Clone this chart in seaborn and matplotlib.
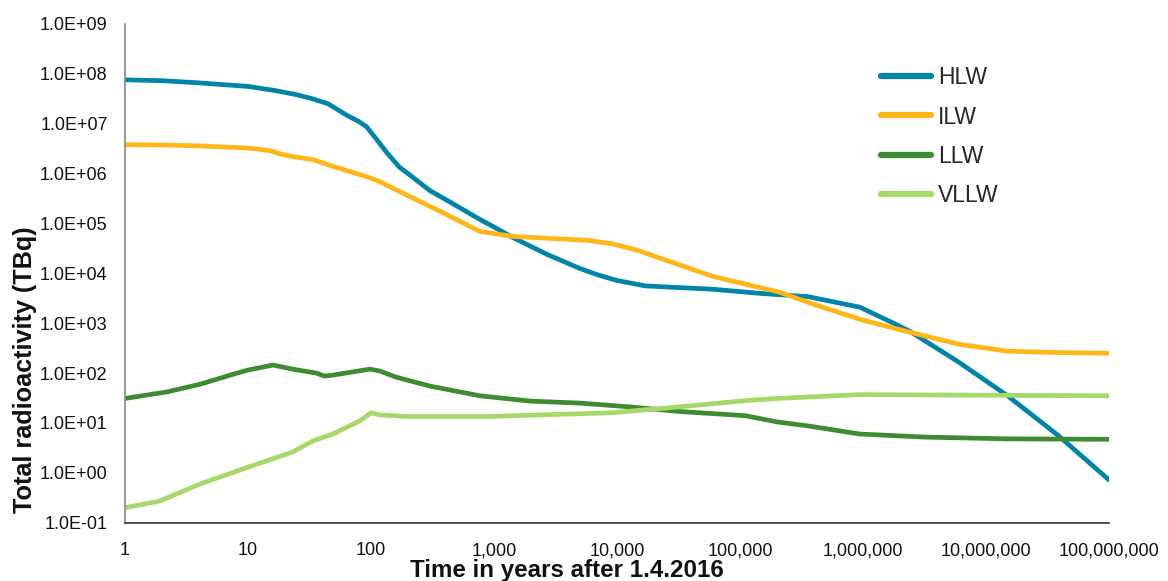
import matplotlib
matplotlib.use("Agg")
import matplotlib.pyplot as plt
import matplotlib.ticker as mticker
import seaborn as sns
import pandas as pd

# ---- data ----
hlw_years = [1, 2, 4, 10, 16, 24, 33, 45, 63, 80, 92, 110, 135, 170, 200, 300, 450, 770,
             1000, 1430, 2700, 5000, 7000, 10000, 17000, 60000, 140000, 360000, 940000,
             1700000, 2400000, 6000000, 15000000, 39000000, 100000000]
hlw = [7.6e7, 7.3e7, 6.6e7, 5.6e7, 4.7e7, 3.9e7, 3.2e7, 2.5e7, 1.5e7, 1.1e7, 8.7e6, 5.0e6,
       2.6e6, 1.35e6, 1.0e6, 4.6e5, 2.6e5, 1.2e5, 8.5e4, 5.2e4, 2.4e4, 1.25e4, 9.3e3, 7.2e3,
       5.6e3, 4.8e3, 4.0e3, 3.4e3, 2.1e3, 1.05e3, 690, 166, 35, 5.5, 0.72]

ilw_years = [1, 2, 4, 10, 15, 18, 23, 34, 49, 92, 118, 170, 205, 415, 770, 1430, 3000, 5700,
             9200, 14000, 24000, 60000, 140000, 210000, 360000, 940000, 2400000, 6000000,
             15000000, 40000000, 100000000]
ilw = [3.8e6, 3.75e6, 3.6e6, 3.25e6, 2.9e6, 2.5e6, 2.2e6, 1.9e6, 1.4e6, 8.7e5, 6.9e5, 4.4e5,
       3.5e5, 1.5e5, 6.9e4, 5.5e4, 5.0e4, 4.6e4, 3.9e4, 3.0e4, 1.9e4, 8.7e3, 5.3e3, 4.2e3,
       2.6e3, 1.2e3, 660, 380, 275, 258, 250]

llw_years = [1, 2.2, 4.1, 7.6, 10, 16, 23, 36, 42, 49, 98, 118, 160, 300, 770, 1950, 5000,
             12800, 32000, 110000, 200000, 360000, 940000, 3200000, 15000000, 100000000]
llw = [31, 42, 60, 95, 115, 145, 120, 100, 87, 91, 120, 110, 83, 55, 35, 27.5, 25,
       21, 17, 14, 10.5, 8.7, 6.0, 5.2, 4.8, 4.7]

vllw_years = [1, 1.9, 4.1, 10, 23, 34, 49, 81, 100, 118, 195, 920, 9000, 32000, 110000,
              200000, 940000, 100000000]
vllw = [0.2, 0.27, 0.6, 1.3, 2.6, 4.4, 6.0, 11, 16, 14.5, 13.5, 13.5, 16, 21, 28,
        31, 37, 35]

x_ticks = [1, 10, 100, 1000, 10000, 100000, 1000000, 10000000, 100000000]
y_ticks = [0.1, 1, 10, 100, 1e3, 1e4, 1e5, 1e6, 1e7, 1e8, 1e9]

series_names = ["HLW", "ILW", "LLW", "VLLW"]
colors = {"HLW": "#0084A9", "ILW": "#FFB718", "LLW": "#3E8C31", "VLLW": "#A7D86A"}

long = pd.concat([
    pd.DataFrame({"years": hlw_years, "activity": hlw, "waste": "HLW"}),
    pd.DataFrame({"years": ilw_years, "activity": ilw, "waste": "ILW"}),
    pd.DataFrame({"years": llw_years, "activity": llw, "waste": "LLW"}),
    pd.DataFrame({"years": vllw_years, "activity": vllw, "waste": "VLLW"}),
], ignore_index=True)

# ---- style ----
sns.set_style("white")
plt.rcParams["font.family"] = ["Liberation Sans", "DejaVu Sans"]

fig = plt.figure(figsize=(11.68, 5.81), dpi=100)
ax = fig.add_axes([125 / 1168, 1 - 522.7 / 581, (1109 - 125) / 1168, (522.7 - 24) / 581])

sns.lineplot(data=long, x="years", y="activity", hue="waste", hue_order=series_names,
             palette=colors, linewidth=3.4, ax=ax, legend=True, sort=True,
             estimator=None)
for ln in ax.get_lines():
    ln.set_solid_capstyle("round")
    ln.set_solid_joinstyle("round")

ax.set_xscale("log")
ax.set_yscale("log")
ax.set_xlim(1, 1e8)
ax.set_ylim(0.1, 1e9)

ax.xaxis.set_major_locator(mticker.FixedLocator(x_ticks))
ax.yaxis.set_major_locator(mticker.FixedLocator(y_ticks))
ax.xaxis.set_minor_locator(mticker.NullLocator())
ax.yaxis.set_minor_locator(mticker.NullLocator())
ax.xaxis.set_major_formatter(mticker.FuncFormatter(lambda v, p: f"{int(round(v)):,}"))
ax.yaxis.set_major_formatter(mticker.FuncFormatter(lambda v, p: f"{v:.1E}"))

ax.tick_params(axis="x", direction="in", length=5, width=1, color="#888888",
               labelsize=13, labelcolor="#111111", pad=14)
ax.tick_params(axis="y", direction="inout", length=11, width=1, color="#888888",
               labelsize=13, labelcolor="#111111", pad=7)

for s in ["top", "right"]:
    ax.spines[s].set_visible(False)
ax.spines["left"].set_color("#888888")
ax.spines["left"].set_linewidth(1.2)
ax.spines["bottom"].set_color("#333333")
ax.spines["bottom"].set_linewidth(1.2)

ax.set_xlabel("Time in years after 1.4.2016", fontsize=17.4, fontweight="bold", color="#111111")
ax.set_ylabel("Total radioactivity (TBq)", fontsize=18.2, fontweight="bold", color="#111111")
ax.xaxis.label.set_va("center")
ax.yaxis.label.set_va("center")
ax.xaxis.set_label_coords((567 - 125) / (1109 - 125), -(570 - 522.7) / (522.7 - 24))
ax.yaxis.set_label_coords(-(125 - 25) / (1109 - 125), (522.7 - 369.5) / (522.7 - 24))

leg = ax.legend(loc="upper left", bbox_to_anchor=(881 / 1168, 1 - 66 / 581),
                bbox_transform=fig.transFigure, frameon=False, fontsize=16.5,
                handlelength=2.2, handletextpad=0.3, labelspacing=0.72, borderpad=0,
                borderaxespad=0)
for h in leg.get_lines():
    h.set_linewidth(4.5)
    h.set_solid_capstyle("round")

fig.savefig("out.png", dpi=100)
